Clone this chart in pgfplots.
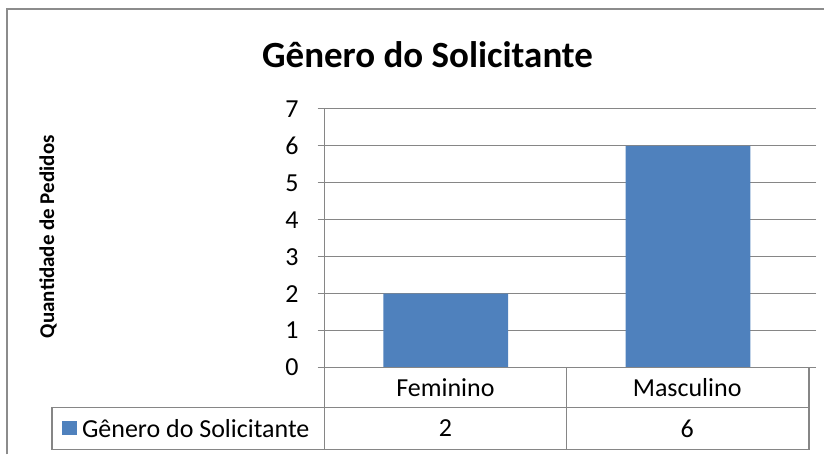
\documentclass[border=0pt]{standalone}
\usepackage{pgfplots}
\pgfplotsset{compat=1.18}
\usepackage{fontspec}
\setmainfont{Carlito}
\definecolor{barblue}{HTML}{4F81BD}
\definecolor{gridgray}{HTML}{868686}
\definecolor{bordergray}{HTML}{8C8C8C}
\newcommand{\tfont}{\fontsize{26bp}{30bp}\selectfont}
\begin{document}
\begin{tikzpicture}
\begin{scope}[x=1bp,y=-1bp,shift={(0,455bp)}]
\useasboundingbox (0,0) rectangle (825,455);
\end{scope}
\begin{axis}[
  at={(325bp,87bp)}, anchor=south west,
  scale only axis, width=485bp, height=259bp,
  xmin=-0.5, xmax=1.5, ymin=0, ymax=7,
  axis line style={draw=none},
  xtick=\empty,
  ytick={0,1,...,7},
  tick align=outside,
  major tick length=7bp,
  ytick style={draw=gridgray, line width=1.2bp},
  ymajorgrids, grid style={draw=gridgray, line width=1.2bp},
  /pgf/number format/assume math mode=true,
  yticklabel style={font=\tfont, inner sep=0pt, xshift=-19bp},
  clip=false,
]
\addplot[ybar, bar width=125bp, fill=barblue, draw=none] coordinates {(0,2) (1,6)};
\end{axis}
\begin{scope}[x=1bp,y=-1bp,shift={(0,455bp)}]
 % outer border
 \draw[bordergray, line width=2bp] (7,455) -- (7,9) -- (825,9);
 % title
 \node[font=\fontsize{37bp}{42bp}\selectfont\bfseries, anchor=base] at (428,68) {Gênero do Solicitante};
 % y label
 \node[font=\fontsize{21bp}{24bp}\selectfont\bfseries, rotate=90] at (48,237) {Quantidade de Pedidos};
 % table
 \draw[gridgray, line width=1.3bp] (325,109) -- (325,450);
 \draw[gridgray, line width=1.3bp] (325,368) -- (810,368) -- (810,450) -- (52,450) -- (52,408) -- (810,408);
 \draw[gridgray, line width=1.3bp] (567,368) -- (567,450);
 \node[font=\tfont] at (446,388) {Feminino};
 \node[font=\tfont] at (688,388) {Masculino};
 \node[font=\tfont] at (446,429) {2};
 \node[font=\tfont] at (688,429) {6};
 \fill[barblue] (62,422) rectangle (77,436);
 \node[font=\tfont, anchor=west, inner sep=0pt] at (82,429) {Gênero do Solicitante};
\end{scope}
\end{tikzpicture}
\end{document}
